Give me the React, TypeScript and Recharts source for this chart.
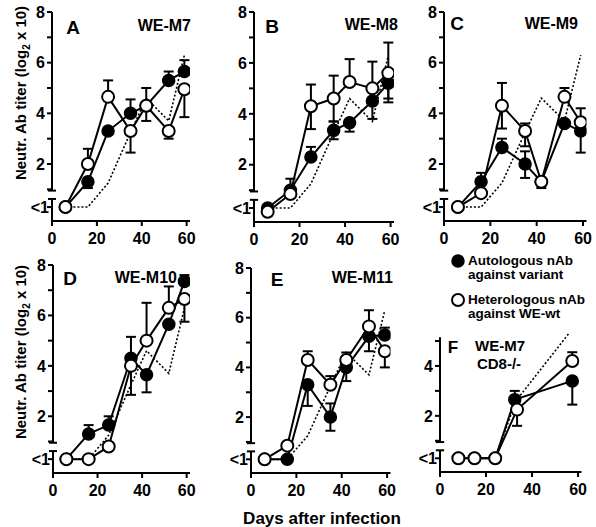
import { LineChart, Line, XAxis, YAxis, ErrorBar, ReferenceLine } from "recharts";

const FONT = "'Liberation Sans', Arial, Helvetica, sans-serif";

// sampling days (panels A-E) and the dotted reference course
const days = [6, 16, 25, 35, 42, 52, 59];
const refTiter = [0.3, 0.3, 1.25, 3.25, 4.6, 3.7, 6.3];

const LT1 = 0.3; // position of the "<1" tick
const yTicks8 = [0.3, 1, 2, 3, 4, 5, 6, 7, 8];
const yTicks5 = [0.3, 1, 2, 3, 4, 5];
const xTicks = [0, 20, 40, 60];

// A  WE-M7
const autoA = [0.3, 1.3, 3.3, 4.0, 4.3, 5.3, 5.65];
const autoHiA = [0.3, 1.3, 3.3, 4.55, 4.3, 5.65, 6.1];
const autoLoA = [0.3, 1.05, 3.3, 4.0, 4.3, 5.3, 5.65];
const hetA = [0.3, 2.0, 4.65, 3.3, 4.3, 3.3, 4.95];
const hetHiA = [0.3, 2.6, 5.3, 3.3, 5.0, 3.3, 4.95];
const hetLoA = [0.3, 2.0, 4.65, 2.45, 3.7, 3.0, 3.85];

// B  WE-M8
const autoB = [0.3, 1.0, 2.3, 3.35, 3.65, 4.5, 5.2];
const autoHiB = [0.3, 1.45, 2.7, 3.7, 3.65, 4.5, 5.2];
const autoLoB = [0.3, 1.0, 2.3, 3.0, 3.3, 4.5, 4.45];
const hetB = [0.15, 0.85, 4.3, 4.6, 5.25, 5.0, 5.6];
const hetHiB = [0.15, 0.85, 5.15, 5.5, 6.15, 6.05, 6.8];
const hetLoB = [0.15, 0.85, 3.4, 3.7, 5.25, 3.8, 4.6];

// C  WE-M9
const autoC = [0.3, 1.3, 2.65, 2.0, 1.3, 3.6, 3.3];
const autoHiC = [0.3, 1.65, 3.0, 2.5, 1.3, 3.6, 3.3];
const autoLoC = [0.3, 1.3, 2.65, 1.45, 1.3, 3.6, 2.45];
const hetC = [0.3, 0.85, 4.3, 3.3, 1.3, 4.65, 3.65];
const hetHiC = [0.3, 0.85, 5.2, 3.6, 1.3, 5.0, 4.2];
const hetLoC = [0.3, 0.85, 3.4, 2.7, 1.05, 4.65, 3.65];

// D  WE-M10
const autoD = [0.3, 1.3, 1.65, 4.3, 3.65, 5.65, 7.35];
const autoHiD = [0.3, 1.65, 2.0, 5.15, 3.65, 5.65, 7.6];
const autoLoD = [0.3, 1.3, 1.65, 4.3, 2.95, 5.65, 7.35];
const hetD = [0.3, 0.3, 0.8, 4.0, 5.0, 6.3, 6.65];
const hetHiD = [0.3, 0.3, 0.8, 4.0, 6.5, 7.15, 6.65];
const hetLoD = [0.3, 0.3, 0.8, 2.85, 5.0, 6.3, 5.75];

// E  WE-M11
const autoE = [0.3, 0.3, 3.3, 2.0, 4.0, 5.25, 5.3];
const autoHiE = [0.3, 0.3, 3.3, 2.55, 4.0, 5.25, 5.6];
const autoLoE = [0.3, 0.3, 2.45, 1.45, 3.45, 4.65, 5.3];
const hetE = [0.3, 0.85, 4.3, 3.3, 4.3, 5.65, 4.65];
const hetHiE = [0.3, 0.85, 4.65, 3.65, 4.6, 6.3, 4.65];
const hetLoE = [0.3, 0.85, 4.3, 3.3, 4.3, 5.65, 4.0];

// F  WE-M7 in CD8-/- mice
const autoDaysF = [8, 15, 24, 32.5, 57.5];
const autoF = [0.3, 0.3, 0.3, 2.65, 3.4];
const autoHiF = [0.3, 0.3, 0.3, 3.0, 3.4];
const autoLoF = [0.3, 0.3, 0.3, 2.65, 2.45];
const hetDaysF = [8, 15, 24, 33.5, 57.5];
const hetF = [0.3, 0.3, 0.3, 2.25, 4.2];
const hetHiF = [0.3, 0.3, 0.3, 2.25, 4.55];
const hetLoF = [0.3, 0.3, 0.3, 1.6, 4.2];
const refDaysF = [24, 33, 56];
const refTiterF = [0.3, 2.6, 5.3];

type Pt = { day: number; v: number; err: [number, number] };

const pts = (x: number[], v: number[], lo?: number[], hi?: number[]): Pt[] =>
  x.map((d, i) => ({
    day: d,
    v: v[i],
    err: [lo ? v[i] - lo[i] : 0, hi ? hi[i] - v[i] : 0],
  }));

const YW = 50;
const MT = 14;
const MR = 8;
const XH = 34;

const XTick = (p: any) => (
  <g>
    <line x1={p.x} x2={p.x} y1={p.y} y2={p.y + 5} stroke="#000" strokeWidth={2} />
    <text x={p.x} y={p.y + 17} dy="0.36em" textAnchor="middle" fontSize={16} fontWeight="bold" fontFamily={FONT} fill="#000">
      {p.payload.value}
    </text>
  </g>
);

const YTick = (p: any) => {
  const v = p.payload.value;
  const label = v === LT1 ? "<1" : v % 2 === 0 ? String(v) : "";
  return (
    <g>
      <line x1={p.x - 5} x2={p.x} y1={p.y} y2={p.y} stroke="#000" strokeWidth={2} />
      {label && (
        <text x={v === LT1 ? p.x - 3 : p.x - 7} y={p.y} dy="0.36em" textAnchor="end" fontSize={16} fontWeight="bold" fontFamily={FONT} fill="#000">
          {label}
        </text>
      )}
    </g>
  );
};

type PanelProps = {
  left: number;
  top: number;
  w: number;
  h: number;
  yMax: number;
  axisTop: number;
  yTicks: number[];
  auto: Pt[];
  het: Pt[];
  ref: Pt[];
};

function Panel({ left, top, w, h, yMax, axisTop, yTicks, auto, het, ref }: PanelProps) {
  const ax = { stroke: "#000", strokeWidth: 2, ifOverflow: "visible" as const };
  return (
    <div style={{ position: "absolute", left: left - YW, top: top - MT }}>
      <LineChart width={YW + w + MR} height={MT + h + XH} margin={{ top: MT, right: MR, bottom: 0, left: 0 }}>
        <XAxis
          type="number"
          dataKey="day"
          domain={[0, 61.5]}
          allowDataOverflow
          ticks={xTicks}
          interval={0}
          height={XH}
          axisLine={{ stroke: "#000", strokeWidth: 2 }}
          tickLine={false}
          tickSize={0}
          tickMargin={0}
          tick={(p: any) => <XTick {...p} />}
        />
        <YAxis
          type="number"
          domain={[-0.25, yMax]}
          allowDataOverflow
          ticks={yTicks}
          interval={0}
          width={YW}
          axisLine={false}
          tickLine={false}
          tickSize={0}
          tickMargin={0}
          tick={(p: any) => <YTick {...p} />}
        />
        <ReferenceLine segment={[{ x: 0, y: axisTop }, { x: 0, y: 0.95 }]} {...ax} />
        <ReferenceLine segment={[{ x: 0, y: 0.62 }, { x: 0, y: -0.25 }]} {...ax} />
        <ReferenceLine segment={[{ x: -1.8, y: 0.95 }, { x: 1.8, y: 0.95 }]} {...ax} />
        <ReferenceLine segment={[{ x: -1.8, y: 0.62 }, { x: 1.8, y: 0.62 }]} {...ax} />
        <Line
          data={ref}
          dataKey="v"
          stroke="#000"
          strokeWidth={1.6}
          strokeDasharray="2 2"
          dot={false}
          activeDot={false}
          isAnimationActive={false}
        />
        <Line
          data={auto}
          dataKey="v"
          stroke="#000"
          strokeWidth={2}
          dot={{ r: 6, fill: "#000", stroke: "#000", strokeWidth: 1.5 }}
          activeDot={false}
          isAnimationActive={false}
        >
          <ErrorBar dataKey="err" direction="y" width={5} stroke="#000" strokeWidth={2} isAnimationActive={false} />
        </Line>
        <Line
          data={het}
          dataKey="v"
          stroke="#000"
          strokeWidth={2}
          dot={{ r: 6, fill: "#fff", stroke: "#000", strokeWidth: 2 }}
          activeDot={false}
          isAnimationActive={false}
        >
          <ErrorBar dataKey="err" direction="y" width={5} stroke="#000" strokeWidth={2} isAnimationActive={false} />
        </Line>
      </LineChart>
    </div>
  );
}

const refAE = pts(days, refTiter);

const panels: PanelProps[] = [
  { left: 52, top: 12, w: 138, h: 209, yMax: 8, axisTop: 8, yTicks: yTicks8, auto: pts(days, autoA, autoLoA, autoHiA), het: pts(days, hetA, hetLoA, hetHiA), ref: refAE },
  { left: 254, top: 12, w: 140, h: 210, yMax: 8, axisTop: 8, yTicks: yTicks8, auto: pts(days, autoB, autoLoB, autoHiB), het: pts(days, hetB, hetLoB, hetHiB), ref: refAE },
  { left: 444, top: 12, w: 142.5, h: 209, yMax: 8, axisTop: 8, yTicks: yTicks8, auto: pts(days, autoC, autoLoC, autoHiC), het: pts(days, hetC, hetLoC, hetHiC), ref: refAE },
  { left: 53, top: 265, w: 137, h: 208, yMax: 8, axisTop: 8, yTicks: yTicks8, auto: pts(days, autoD, autoLoD, autoHiD), het: pts(days, hetD, hetLoD, hetHiD), ref: refAE },
  { left: 251, top: 268, w: 139.5, h: 205, yMax: 8, axisTop: 8, yTicks: yTicks8, auto: pts(days, autoE, autoLoE, autoHiE), het: pts(days, hetE, hetLoE, hetHiE), ref: refAE },
  { left: 440, top: 331, w: 141.5, h: 141, yMax: 5.4, axisTop: 5.15, yTicks: yTicks5, auto: pts(autoDaysF, autoF, autoLoF, autoHiF), het: pts(hetDaysF, hetF, hetLoF, hetHiF), ref: pts(refDaysF, refTiterF) },
];

const headers = [
  { letter: "A", lx: 73, ly: 27, name: "WE-M7", nx: 191, ny: 25 },
  { letter: "B", lx: 272, ly: 26, name: "WE-M8", nx: 398, ny: 24 },
  { letter: "C", lx: 457, ly: 23, name: "WE-M9", nx: 578, ny: 23 },
  { letter: "D", lx: 70, ly: 278, name: "WE-M10", nx: 177, ny: 277 },
  { letter: "E", lx: 277, ly: 279, name: "WE-M11", nx: 393, ny: 277 },
];

const txt = { fontFamily: FONT, fontWeight: "bold" as const, fill: "#000" };

function YLabel({ x, y }: { x: number; y: number }) {
  return (
    <text transform={`translate(${x},${y}) rotate(-90)`} textAnchor="middle" dy="0.36em" fontSize={15} {...txt}>
      Neutr. Ab titer (log
      <tspan fontSize={10} dy={4}>2</tspan>
      <tspan dy={-4}> x 10)</tspan>
    </text>
  );
}

export default function App() {
  return (
    <div style={{ position: "absolute", left: 0, top: 0, width: 596, height: 527, background: "#fff", overflow: "hidden" }}>
      {panels.map((p, i) => (
        <Panel key={i} {...p} />
      ))}
      <svg width={596} height={527} style={{ position: "absolute", left: 0, top: 0, pointerEvents: "none" }}>
        {headers.map((h) => (
          <g key={h.letter}>
            <text x={h.lx} y={h.ly} dy="0.36em" textAnchor="middle" fontSize={19} {...txt}>
              {h.letter}
            </text>
            <text x={h.nx} y={h.ny} dy="0.36em" textAnchor="end" fontSize={16} {...txt}>
              {h.name}
            </text>
          </g>
        ))}
        <text x={453} y={347} dy="0.36em" textAnchor="middle" fontSize={17} {...txt}>F</text>
        <text x={500} y={346} dy="0.36em" textAnchor="middle" fontSize={15} {...txt}>WE-M7</text>
        <text x={499} y={364} dy="0.36em" textAnchor="middle" fontSize={15} {...txt}>CD8-/-</text>

        <YLabel x={21} y={93} />
        <YLabel x={21} y={352} />
        <text x={322} y={518} dy="0.36em" textAnchor="middle" fontSize={17} {...txt}>Days after infection</text>

        <circle cx={458} cy={261} r={6} fill="#000" stroke="#000" strokeWidth={1.5} />
        <text x={468} y={260} dy="0.36em" fontSize={13.5} {...txt}>Autologous nAb</text>
        <text x={468} y={274} dy="0.36em" fontSize={13.5} {...txt}>against variant</text>
        <circle cx={458} cy={300} r={6} fill="#fff" stroke="#000" strokeWidth={2} />
        <text x={468} y={299} dy="0.36em" fontSize={13.5} {...txt}>Heterologous nAb</text>
        <text x={468} y={313} dy="0.36em" fontSize={13.5} {...txt}>against WE-wt</text>
      </svg>
    </div>
  );
}
